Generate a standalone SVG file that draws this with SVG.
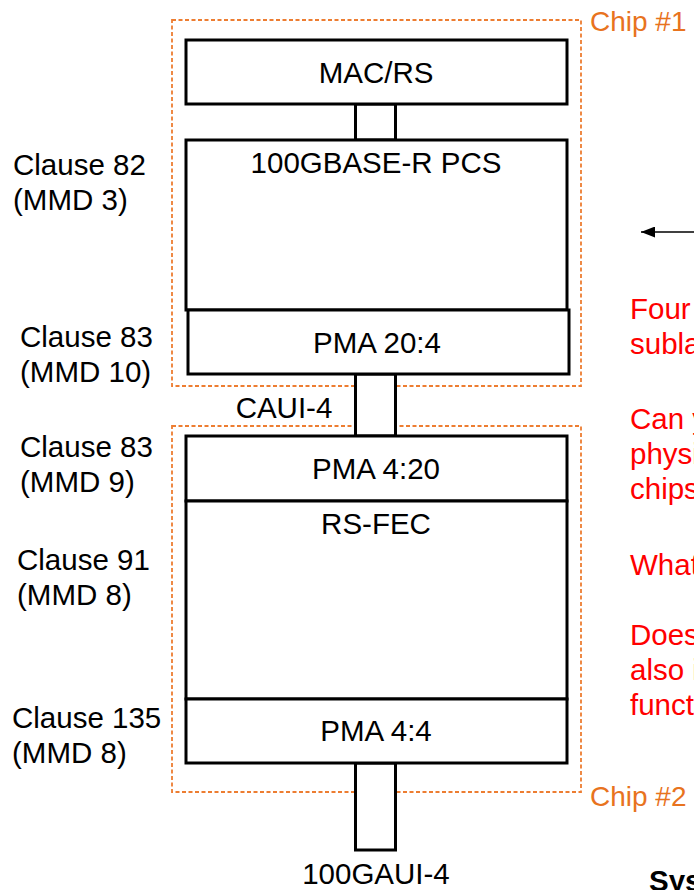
<svg xmlns="http://www.w3.org/2000/svg" width="694" height="890" viewBox="0 0 694 890">
<style>
text{font-family:"Liberation Sans",Arial,sans-serif;font-size:29.5px;fill:#000}
.box{fill:#fff;stroke:#000;stroke-width:3}
.link{fill:#fff;stroke:#000;stroke-width:3}
.chip{fill:none;stroke:#ED7D31;stroke-width:1.8;stroke-dasharray:4 2.5}
.chipt{fill:#E8731E;font-size:28px}
.c{text-anchor:middle}
.red{fill:#FF0000}
</style>
<defs>
<marker id="ah" markerWidth="14" markerHeight="11" refX="14" refY="5.5" orient="auto" markerUnits="userSpaceOnUse">
<path d="M0,0 L14,5.5 L0,11 Z" fill="#000"/>
</marker>
</defs>
<rect width="694" height="890" fill="#fff"/>
<g id="chip1"><rect class="chip" x="172" y="20" width="409" height="366"/><text class="chipt" x="590" y="31">Chip #1</text></g>
<g id="chip2"><rect class="chip" x="172" y="426" width="409" height="366"/><text class="chipt" x="590" y="806">Chip #2</text></g>
<g id="connectors">
<rect class="link" x="355.5" y="104" width="40" height="36"/>
<rect class="link" x="355.5" y="374" width="40" height="62"/>
<rect class="link" x="355.5" y="763" width="40" height="87"/>
<line x1="694" y1="232" x2="641" y2="232" stroke="#000" stroke-width="1.5" marker-end="url(#ah)"/>
</g>
<g id="macrs"><rect class="box" x="186" y="40" width="381" height="64"/><text class="c" x="376" y="83">MAC/RS</text></g>
<g id="pcs"><rect class="box" x="186" y="140" width="381" height="170"/><text class="c" x="376" y="173">100GBASE-R PCS</text></g>
<g id="pma204"><rect class="box" x="188" y="310" width="381" height="64"/><text class="c" x="377" y="353">PMA 20:4</text></g>
<g id="pma420"><rect class="box" x="186" y="436" width="381" height="65"/><text class="c" x="376" y="479">PMA 4:20</text></g>
<g id="rsfec"><rect class="box" x="186" y="501" width="381" height="198"/><text class="c" x="376" y="534">RS-FEC</text></g>
<g id="pma44"><rect class="box" x="186" y="699" width="381" height="64"/><text class="c" x="376" y="741">PMA 4:4</text></g>
<g id="labels">
<text class="c" x="284" y="418">CAUI-4</text>
<text class="c" x="376" y="884">100GAUI-4</text>
<text x="13" y="175">Clause 82</text><text x="13" y="210">(MMD 3)</text>
<text x="20" y="347">Clause 83</text><text x="20" y="382">(MMD 10)</text>
<text x="20" y="457">Clause 83</text><text x="20" y="492">(MMD 9)</text>
<text x="17" y="570">Clause 91</text><text x="17" y="605">(MMD 8)</text>
<text x="12" y="728">Clause 135</text><text x="12" y="763">(MMD 8)</text>
</g>
<g id="notes">
<text class="red" x="630" y="319">Four</text>
<text class="red" x="630" y="354">subla</text>
<text class="red" x="630" y="429">Can y</text>
<text class="red" x="630" y="464">physi</text>
<text class="red" x="630" y="499">chips</text>
<text class="red" x="630" y="575">What</text>
<text class="red" x="630" y="645">Does</text>
<text class="red" x="630" y="680">also i</text>
<text class="red" x="630" y="715">funct</text>
<text x="649" y="891" font-weight="bold">Sys</text>
</g>
</svg>
